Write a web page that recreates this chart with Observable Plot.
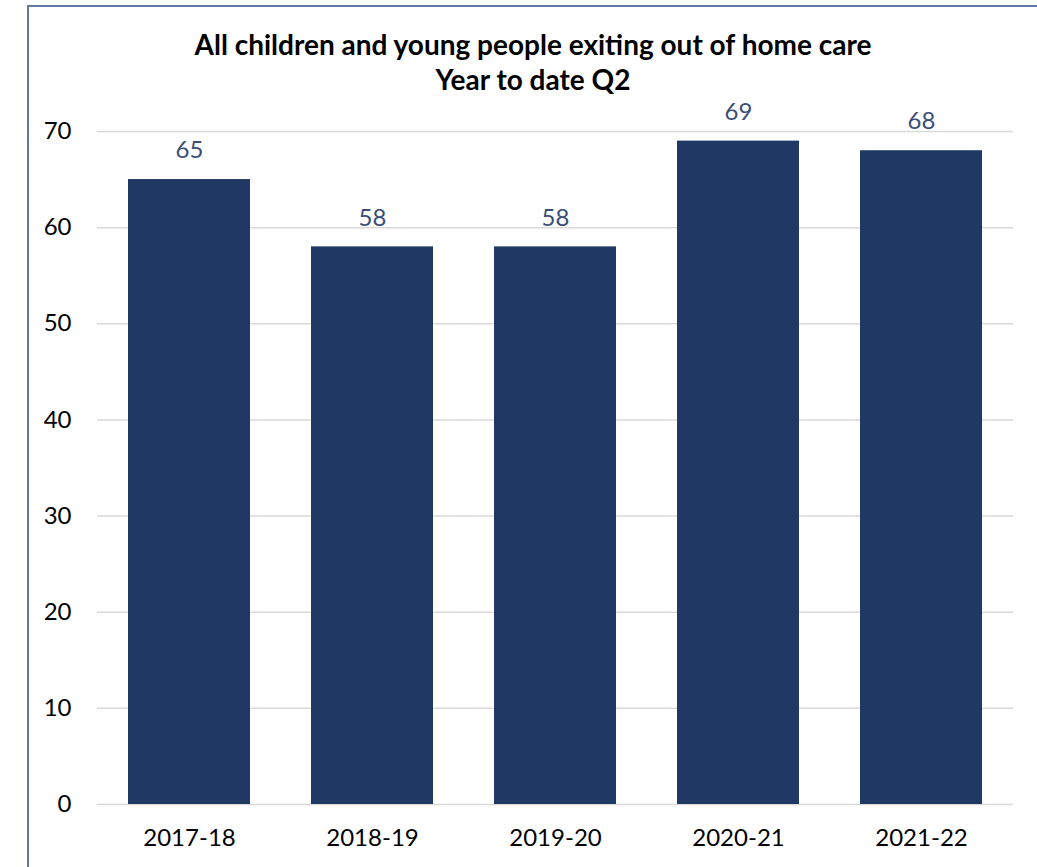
<!DOCTYPE html>
<html>
<head>
<meta charset="utf-8">
<script src="https://cdn.jsdelivr.net/npm/d3@7"></script>
<script src="https://cdn.jsdelivr.net/npm/@observablehq/plot@0.6"></script>
<style>
  html, body { margin: 0; padding: 0; background: #fff; overflow: hidden; }
  #wrap { position: relative; width: 1037px; height: 867px; font-family: Lato, "Open Sans", sans-serif; }
  #frame { position: absolute; left: 27px; top: 5px; width: 1030px; height: 880px; border: 2px solid #6278A6; box-sizing: border-box; }
  #title { position: absolute; left: 27px; width: 1012px; top: 27px; text-align: center; font-weight: 700; font-size: 28px; line-height: 35px; color: #000; letter-spacing: 0px; }
  #chart { position: absolute; left: 0; top: 95px; }
  #chart svg { overflow: visible; }
</style>
</head>
<body>
<div id="wrap">
  <div id="frame"></div>
  <div id="title">All children and young people exiting out of home care<br>Year to date Q2</div>
  <div id="chart"></div>
</div>
<script>
const years = ["2017-18", "2018-19", "2019-20", "2020-21", "2021-22"];
const values = [65, 58, 58, 69, 68];
const yTicks = [0, 10, 20, 30, 40, 50, 60, 70];

const data = years.map((y, i) => ({year: y, value: values[i]}));

const plot = Plot.plot({
  width: 1037,
  height: 772,
  marginLeft: 97,
  marginRight: 24,
  marginTop: 36,
  marginBottom: 63,
  style: { fontFamily: "Lato, 'Open Sans', sans-serif", background: "transparent", overflow: "visible" },
  x: { domain: years, paddingInner: 0.333, paddingOuter: 0.1667, label: null },
  y: { domain: [0, 70], label: null },
  marks: [
    Plot.gridY(yTicks, { stroke: "#D9D9D9", strokeOpacity: 1, strokeWidth: 1.5 }),
    Plot.barY(data, { x: "year", y: "value", fill: "#203864" }),
    Plot.text(data, { x: "year", y: "value", text: d => String(d.value), dy: -29, fill: "#3A4E78", fontSize: 24 }),
    Plot.axisY(yTicks, { tickSize: 0, tickPadding: 26, fontSize: 24, fill: "#000", label: null }),
    Plot.axisX({ tickSize: 0, tickPadding: 24, fontSize: 24, fill: "#000", label: null })
  ]
});
document.getElementById("chart").appendChild(plot);
</script>
</body>
</html>
